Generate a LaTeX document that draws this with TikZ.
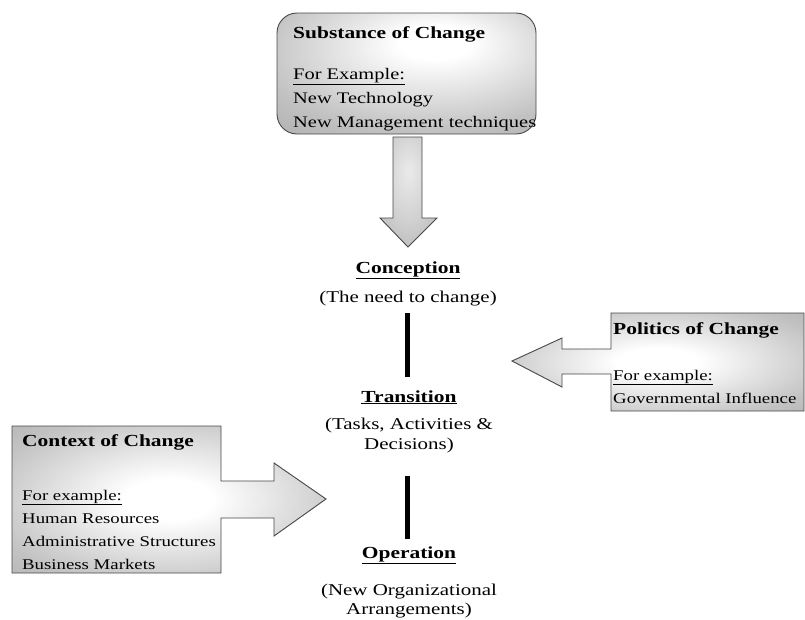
\documentclass[tikz,border=0pt]{standalone}
\usepackage{fontspec}
\setmainfont[FakeStretch=1.27]{Liberation Serif}
\begin{document}
% soft grey glow used for the callout boxes and the arrow
\pgfdeclareradialshading{glow}{\pgfpoint{0bp}{0bp}}{%
  color(0bp)=(white); color(7bp)=(white); color(30bp)=(black!24);
  color(50bp)=(black!36); color(72bp)=(black!44)}
\pgfdeclareradialshading{glowtop}{\pgfpoint{6bp}{14bp}}{%
  color(0bp)=(white); color(7bp)=(white); color(32bp)=(black!24);
  color(52bp)=(black!36); color(80bp)=(black!46)}
\pgfdeclareradialshading{glowarrow}{\pgfpoint{0bp}{10bp}}{%
  color(0bp)=(black!8); color(20bp)=(black!18); color(50bp)=(black!36);
  color(72bp)=(black!46)}
\begin{tikzpicture}[x=1pt,y=-1pt,
  shapeline/.style={draw=black!72, line width=0.9pt},
  title/.style={anchor=base west, inner sep=0pt, font=\fontsize{16.9}{20}\selectfont\bfseries},
  body/.style={anchor=base west, inner sep=0pt, font=\fontsize{16.1}{20}\selectfont},
  sidebody/.style={anchor=base west, inner sep=0pt, font=\fontsize{14.8}{18}\selectfont},
  stage/.style={anchor=base, inner sep=0pt, font=\fontsize{16.9}{20}\selectfont\bfseries},
  note/.style={anchor=base, inner sep=0pt, font=\fontsize{16.5}{20}\selectfont},
  bar/.style={line width=5.5pt}]
\useasboundingbox (0,0) rectangle (805,619);

% substance of change: rounded box and down arrow
\path[shapeline, shading=glowtop, rounded corners=20pt] (277,13) rectangle (536,134);
\path[shapeline, shading=glowarrow] (393,137) -- (422,137) -- (422,218) -- (437,218)
  -- (408,247) -- (380,218) -- (393,218) -- cycle;
\node[title] (subT) at (293,38) {Substance of Change};
\node[body] (subA) at (293,79) {\underline{For Example:}};
\node[body] (subB) at (293,103) {New Technology};
\node[body] (subC) at (293,127) {New Management techniques};

% politics of change: box with arrow to the left
\path[shapeline, shading=glow] (611,313) -- (804,313) -- (804,411) -- (611,411)
  -- (611,374) -- (562,374) -- (562,387) -- (512,361) -- (562,338) -- (562,349)
  -- (611,349) -- cycle;
\node[title] (polT) at (613,334) {Politics of Change};
\node[sidebody] (polA) at (613,380) {\underline{For example:}};
\node[sidebody] (polB) at (613,403) {Governmental Influence};

% context of change: box with arrow to the right
\path[shapeline, shading=glow] (12,426) -- (221,426) -- (221,481) -- (274,481)
  -- (274,463) -- (326,499) -- (274,536) -- (274,518) -- (221,518) -- (221,573)
  -- (12,573) -- cycle;
\node[title] (ctxT) at (22,446) {Context of Change};
\node[sidebody] (ctxA) at (22,500) {\underline{For example:}};
\node[sidebody] (ctxB) at (22,523) {Human Resources};
\node[sidebody] (ctxC) at (22,546) {Administrative Structures};
\node[sidebody] (ctxD) at (22,569) {Business Markets};

% the three stages
\node[stage] (conc) at (408,273) {\underline{Conception}};
\node[note] (concN) at (408,302) {(The need to change)};
\node[stage] (trans) at (409,402) {\underline{Transition}};
\node[note] (transN1) at (409,429) {(Tasks, Activities \&};
\node[note] (transN2) at (409,449) {Decisions)};
\node[stage] (oper) at (409,558) {\underline{Operation}};
\node[note] (operN1) at (409,595) {(New Organizational};
\node[note] (operN2) at (409,614) {Arrangements)};

% links between the stages
\coordinate (b1top) at (407.5,313);
\coordinate (b1bot) at (407.5,377);
\coordinate (b2top) at (407.5,476);
\coordinate (b2bot) at (407.5,539);
\draw[bar] (b1top) -- (b1bot);
\draw[bar] (b2top) -- (b2bot);
\end{tikzpicture}
\end{document}
